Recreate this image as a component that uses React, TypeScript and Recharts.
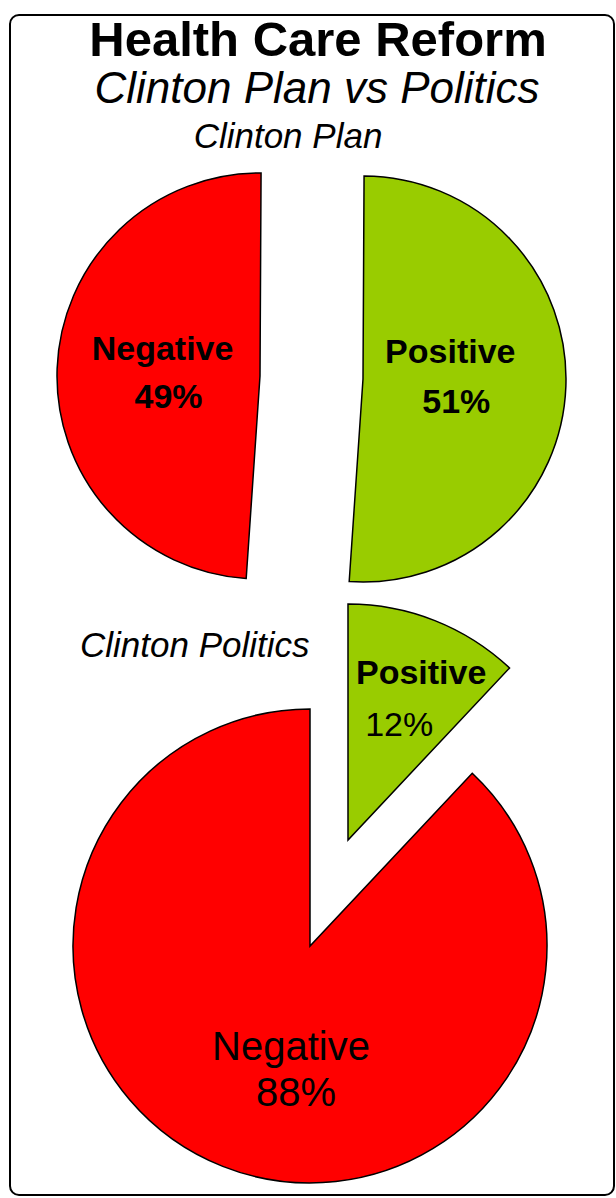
import React from 'react';
import { PieChart, Pie, Cell } from 'recharts';

const categories = ['Negative', 'Positive'];
const planValues = [49, 51];
const politicsValues = [88, 12];

const titleText = 'Health Care Reform';
const subtitleText = 'Clinton Plan vs Politics';
const planLabel = 'Clinton Plan';
const politicsLabel = 'Clinton Politics';

const RED = '#FF0000';
const GREEN = '#99CC00';
const FONT = '"Liberation Sans", Arial, sans-serif';

const planData = categories.map((name, i) => ({ name, value: planValues[i] }));
const politicsData = categories.map((name, i) => ({ name, value: politicsValues[i] }));
const colors = [RED, GREEN];

// label placement, as a fraction of the radius from the slice's own centre
type LabelStyle = { dx: number; dy: number; size: number; bold: boolean; pctBold: boolean; pctDx: number; gap: number };

const makeLabel = (visible: number, style: LabelStyle) => (props: any) => {
  const { cx, cy, outerRadius, index, name, value } = props;
  if (index !== visible) return null;
  const x = cx + style.dx * outerRadius;
  const y = cy + style.dy * outerRadius;
  return (
    <text
      x={x}
      y={y}
      textAnchor="middle"
      fill="#000"
      fontFamily={FONT}
      fontSize={style.size}
      key={`lbl-${index}`}
    >
      <tspan x={x} fontWeight={style.bold ? 'bold' : 'normal'}>
        {name}
      </tspan>
      <tspan x={x + style.pctDx} dy={style.gap} fontWeight={style.pctBold ? 'bold' : 'normal'}>
        {`${value}%`}
      </tspan>
    </text>
  );
};

const sliceCells = (visible: number) =>
  categories.map((c, i) => (
    <Cell
      key={c}
      fill={i === visible ? colors[i] : 'none'}
      stroke={i === visible ? '#000' : 'none'}
      strokeWidth={1.5}
    />
  ));

const App: React.FC = () => {
  return (
    <div style={{ position: 'absolute', left: 0, top: 0, width: 616, height: 1198, background: '#fff', overflow: 'hidden' }}>
      <div
        style={{
          position: 'absolute',
          left: 9,
          top: 14,
          width: 602,
          height: 1178,
          border: '2px solid #000',
          borderRadius: 10,
        }}
      />
      <div style={{ position: 'absolute', left: 0, top: 0 }}>
        <PieChart width={616} height={1198} margin={{ top: 0, right: 0, bottom: 0, left: 0 }}>
          {/* top pie: plan, two halves pulled apart */}
          <Pie
            data={planData}
            dataKey="value"
            cx={260}
            cy={376}
            outerRadius={203}
            startAngle={89.7}
            endAngle={449.7}
            isAnimationActive={false}
            labelLine={false}
            label={makeLabel(0, { dx: -0.48, dy: -0.08, size: 34, bold: true, pctBold: true, pctDx: 6, gap: 48 })}
          >
            {sliceCells(0)}
          </Pie>
          <Pie
            data={planData}
            dataKey="value"
            cx={363}
            cy={379}
            outerRadius={203}
            startAngle={89.7}
            endAngle={449.7}
            isAnimationActive={false}
            labelLine={false}
            label={makeLabel(1, { dx: 0.43, dy: -0.08, size: 34, bold: true, pctBold: true, pctDx: 6, gap: 50 })}
          >
            {sliceCells(1)}
          </Pie>
          {/* bottom pie: politics, positive wedge exploded */}
          <Pie
            data={politicsData}
            dataKey="value"
            cx={310}
            cy={946}
            outerRadius={237}
            startAngle={90}
            endAngle={450}
            isAnimationActive={false}
            labelLine={false}
            label={makeLabel(0, { dx: -0.08, dy: 0.48, size: 40, bold: false, pctBold: false, pctDx: 5, gap: 46 })}
          >
            {sliceCells(0)}
          </Pie>
          <Pie
            data={politicsData}
            dataKey="value"
            cx={348}
            cy={840}
            outerRadius={236}
            startAngle={90}
            endAngle={450}
            isAnimationActive={false}
            labelLine={false}
            label={makeLabel(1, { dx: 0.31, dy: -0.66, size: 34, bold: true, pctBold: false, pctDx: -22, gap: 52 })}
          >
            {sliceCells(1)}
          </Pie>
        </PieChart>
      </div>
      <svg width={616} height={1198} style={{ position: 'absolute', left: 0, top: 0, pointerEvents: 'none' }}>
        <text x={318} y={56} textAnchor="middle" fontFamily={FONT} fontSize={49} fontWeight="bold" fill="#000">
          {titleText}
        </text>
        <text x={317} y={103} textAnchor="middle" fontFamily={FONT} fontSize={44} fontStyle="italic" fill="#000">
          {subtitleText}
        </text>
        <text x={288} y={148} textAnchor="middle" fontFamily={FONT} fontSize={35} fontStyle="italic" fill="#000">
          {planLabel}
        </text>
        <text x={80} y={657} textAnchor="start" fontFamily={FONT} fontSize={35} fontStyle="italic" fill="#000">
          {politicsLabel}
        </text>
      </svg>
    </div>
  );
};

export default App;
